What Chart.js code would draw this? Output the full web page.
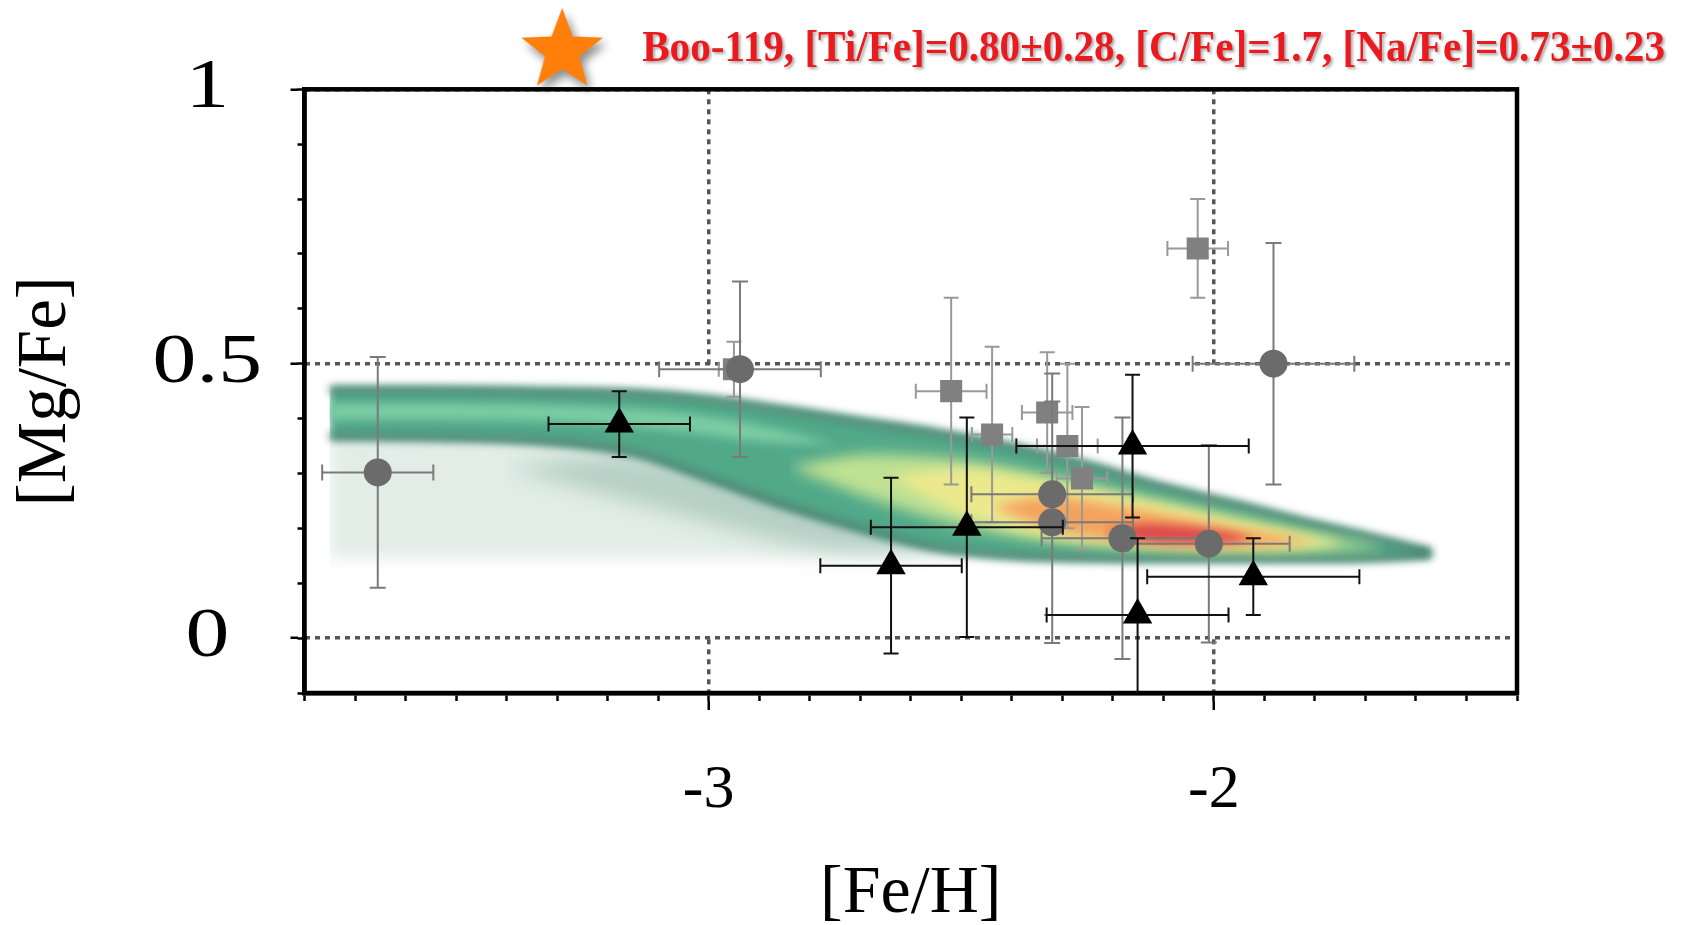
<!DOCTYPE html>
<html>
<head>
<meta charset="utf-8">
<title>[Mg/Fe] vs [Fe/H]</title>
<script src="https://cdn.jsdelivr.net/npm/chart.js@4.4.1/dist/chart.umd.min.js"></script>
<style>
  html, body { margin: 0; padding: 0; background: #fff; }
  #wrap { width: 1687px; height: 925px; position: relative; }
</style>
</head>
<body>
<div id="wrap"><canvas id="mgfe"></canvas></div>
<script>
// ---- values ----
// grey circles
const circleFeH     = [-3.655, -2.938, -2.320, -2.320, -2.181, -2.010, -1.882];
const circleMgFe    = [0.302, 0.490, 0.262, 0.211, 0.182, 0.172, 0.500];
const circleFeHErr  = [0.11, 0.16, 0.16, 0.16, 0.16, 0.16, 0.16];
const circleMgFeErr = [0.21, 0.16, 0.22, 0.22, 0.22, 0.18, 0.22];

// grey squares
const squareFeH     = [-2.950, -2.520, -2.439, -2.330, -2.290, -2.261, -2.032];
const squareMgFe    = [0.490, 0.450, 0.371, 0.411, 0.350, 0.291, 0.710];
const squareFeHErr  = [0.03, 0.07, 0.04, 0.05, 0.06, 0.05, 0.06];
const squareMgFeErr = [0.05, 0.17, 0.16, 0.11, 0.15, 0.13, 0.09];

// black triangles
const triFeH     = [-3.177, -2.639, -2.489, -2.161, -2.151, -1.922];
const triMgFe    = [0.390, 0.132, 0.202, 0.350, 0.042, 0.112];
const triFeHErr  = [0.14, 0.14, 0.19, 0.23, 0.18, 0.21];
const triMgFeErr = [0.06, 0.16, 0.20, 0.13, 0.14, 0.07];

// Boo-119 (star above the frame)
const starFeH  = [-3.29];
const starMgFe = [1.07];
const starLabel = 'Boo-119, [Ti/Fe]=0.80\u00b10.28, [C/Fe]=1.7, [Na/Fe]=0.73\u00b10.23';

// axes
const feHRange = [-3.8, -1.4];
const mgFeRange = [-0.1, 1.0];
const feHMajor = 1, feHMinor = 0.1;
const mgFeMajor = 0.5, mgFeMinor = 0.1;

// model density map: extent of the map image and its contours
const mapX      = [-3.8, -1.4];
const mapTop    = [0.496, 0.496];
const mapBottom = [0.004, 0.004];

const hazeX      = [-3.75, -3.45, -3.15, -2.90, -2.70, -2.50];
const hazeTop    = [0.370, 0.365, 0.350, 0.280, 0.220, 0.170];
const hazeBottom = [0.145, 0.145, 0.145, 0.145, 0.145, 0.147];

const haze2X      = [-3.40, -3.20, -3.00, -2.85, -2.70, -2.55];
const haze2Top    = [0.310, 0.330, 0.300, 0.255, 0.210, 0.165];
const haze2Bottom = [0.310, 0.260, 0.210, 0.175, 0.158, 0.165];

const tealX      = [-3.75, -3.55, -3.35, -3.15, -3.00, -2.85, -2.70, -2.55, -2.40, -2.25, -2.10, -1.95, -1.80, -1.70, -1.62, -1.57];
const tealTop    = [0.452, 0.452, 0.450, 0.446, 0.435, 0.416, 0.395, 0.374, 0.348, 0.315, 0.275, 0.242, 0.207, 0.186, 0.168, 0.156];
const tealBottom = [0.368, 0.366, 0.360, 0.338, 0.292, 0.242, 0.200, 0.165, 0.150, 0.146, 0.145, 0.145, 0.145, 0.146, 0.149, 0.153];

const ridgeX      = [-3.75, -3.50, -3.25, -3.05, -2.90, -2.74];
const ridgeTop    = [0.428, 0.428, 0.423, 0.410, 0.388, 0.352];
const ridgeBottom = [0.398, 0.398, 0.392, 0.375, 0.358, 0.352];

const limeX      = [-2.84, -2.68, -2.50, -2.35, -2.20, -2.05, -1.90, -1.78, -1.66];
const limeTop    = [0.312, 0.335, 0.325, 0.300, 0.270, 0.240, 0.210, 0.186, 0.166];
const limeBottom = [0.312, 0.255, 0.205, 0.180, 0.166, 0.160, 0.158, 0.160, 0.164];

const yellowX      = [-2.64, -2.50, -2.36, -2.22, -2.08, -1.95, -1.82, -1.74];
const yellowTop    = [0.295, 0.308, 0.290, 0.265, 0.238, 0.212, 0.188, 0.173];
const yellowBottom = [0.295, 0.228, 0.192, 0.175, 0.167, 0.164, 0.166, 0.173];

const orangeX      = [-2.44, -2.32, -2.20, -2.08, -1.96, -1.86, -1.80];
const orangeTop    = [0.240, 0.258, 0.243, 0.222, 0.202, 0.186, 0.177];
const orangeBottom = [0.240, 0.198, 0.178, 0.169, 0.167, 0.170, 0.177];

const redX      = [-2.22, -2.14, -2.06, -1.98, -1.92];
const redTop    = [0.192, 0.208, 0.204, 0.194, 0.181];
const redBottom = [0.192, 0.177, 0.173, 0.174, 0.181];

// ---- helpers ----
const SERIF = "'Liberation Serif', 'Times New Roman', serif";

function pairs(xs, ys) {
    return xs.map((x, i) => ({x: x, y: ys[i]}));
}

// one line dataset holding every bar; nulls split the segments
function errorBarData(xs, ys, xe, ye) {
    const pts = [];
    xs.forEach((x, i) => {
        pts.push({x: x - xe[i], y: ys[i], cap: 'v'}, {x: x + xe[i], y: ys[i], cap: 'v'}, {x: null, y: null});
        pts.push({x: x, y: ys[i] - ye[i], cap: 'h'}, {x: x, y: ys[i] + ye[i], cap: 'h'}, {x: null, y: null});
    });
    return pts;
}

function errorBars(xs, ys, xe, ye, color, capRadius, order) {
    return {
        type: 'line',
        data: errorBarData(xs, ys, xe, ye),
        borderColor: color,
        borderWidth: 2,
        spanGaps: false,
        pointStyle: 'line',
        pointRadius: capRadius,
        pointBorderColor: color,
        pointBorderWidth: 2,
        pointRotation: ctx => (ctx.raw && ctx.raw.cap === 'v') ? 90 : 0,
        fill: false,
        clip: 0,
        order: order
    };
}

// a filled contour: upper line + lower line filled up to it
function band(xs, top, bottom, fillColor, edgeColor, edgeWidth, blur, order) {
    const common = {
        type: 'line',
        borderColor: edgeColor,
        borderWidth: edgeWidth,
        pointRadius: 0,
        cubicInterpolationMode: 'monotone',
        clip: 0,
        order: order,
        blur: blur
    };
    return [
        Object.assign({}, common, {data: pairs(xs, top), fill: false}),
        Object.assign({}, common, {data: pairs(xs, bottom), fill: '-1', backgroundColor: fillColor})
    ];
}

function makeStar() {
    const c = document.createElement('canvas');
    c.width = 120;
    c.height = 120;
    const g = c.getContext('2d');
    g.shadowColor = 'rgba(0,0,0,0.45)';
    g.shadowBlur = 10;
    g.shadowOffsetX = 4;
    g.shadowOffsetY = 6;
    g.beginPath();
    for (let k = 0; k < 10; k++) {
        const r = k % 2 ? 18 : 43;
        const a = -Math.PI / 2 + k * Math.PI / 5;
        g.lineTo(60 + r * Math.cos(a), 60 + r * Math.sin(a));
    }
    g.closePath();
    g.fillStyle = '#ff7f0a';
    g.fill();
    return c;
}

// blurs the contour datasets; filler draws a fill just before its dataset,
// so the filter is switched on right after the previous dataset finishes
function setBlurFor(chart, doneMeta) {
    const metas = chart.getSortedVisibleDatasetMetas();
    const k = doneMeta ? metas.indexOf(doneMeta) - 1 : metas.length - 1;
    const next = metas[k];
    const b = next ? chart.data.datasets[next.index].blur : 0;
    chart.ctx.filter = b ? 'blur(' + b + 'px)' : 'none';
}

const softMap = {
    id: 'softMap',
    beforeDatasetsDraw(chart) { setBlurFor(chart, null); },
    afterDatasetDraw(chart, args) { setBlurFor(chart, args.meta); },
    afterDatasetsDraw(chart) {
        const ctx = chart.ctx;
        const a = chart.chartArea;
        ctx.filter = 'none';
        ctx.save();
        ctx.lineWidth = 4.5;
        ctx.strokeStyle = '#000';
        ctx.strokeRect(a.left, a.top, a.right - a.left, a.bottom - a.top);
        ctx.restore();
    }
};

// the y tick labels of the original are drawn wide; stretch them about their centre
const wideYLabels = {
    id: 'wideYLabels',
    afterLayout(chart) {
        const s = chart.scales.y;
        if (s._wide) return;
        s._wide = true;
        const drawLabels = s.drawLabels.bind(s);
        s.drawLabels = function (area) {
            const items = this.getLabelItems(area);
            const cx = items.length ? items[0].options.translation[0] : 0;
            const ctx = this.ctx;
            ctx.save();
            ctx.translate(cx, 0);
            ctx.scale(1.27, 1);
            ctx.translate(-cx, 0);
            drawLabels(area);
            ctx.restore();
        };
    }
};

const starText = {
    id: 'starText',
    afterDraw(chart) {
        const p = chart.getDatasetMeta(starIndex).data[0];
        const ctx = chart.ctx;
        const x0 = p.x + 80;
        const x1 = chart.width - 22;
        ctx.save();
        ctx.font = 'bold 44px ' + SERIF;
        const w = ctx.measureText(starLabel).width;
        ctx.translate(x0, p.y + 10);
        ctx.scale((x1 - x0) / w, 1);
        ctx.shadowColor = 'rgba(0,0,0,0.35)';
        ctx.shadowBlur = 3;
        ctx.shadowOffsetX = 2;
        ctx.shadowOffsetY = 2;
        ctx.fillStyle = '#ea1a1f';
        ctx.textBaseline = 'alphabetic';
        ctx.fillText(starLabel, 0, 0);
        ctx.restore();
    }
};

// ---- datasets ----
const datasets = [];
datasets.push({
    type: 'scatter', data: pairs(starFeH, starMgFe), pointStyle: makeStar(), pointRadius: 45,
    borderWidth: 0, clip: false, order: 0
});
const starIndex = 0;

datasets.push({type: 'scatter', data: pairs(triFeH, triMgFe), pointStyle: 'triangle', pointRadius: 17,
    backgroundColor: '#000', borderWidth: 0, order: 1});
datasets.push(errorBars(triFeH, triMgFe, triFeHErr, triMgFeErr, '#111', 7.5, 2));
datasets.push({type: 'scatter', data: pairs(circleFeH, circleMgFe), pointStyle: 'circle', pointRadius: 14,
    backgroundColor: '#6b6b6b', borderWidth: 0, order: 3});
datasets.push(errorBars(circleFeH, circleMgFe, circleFeHErr, circleMgFeErr, '#7a7a7a', 8, 4));
datasets.push({type: 'scatter', data: pairs(squareFeH, squareMgFe), pointStyle: 'rect', pointRadius: 15.6,
    backgroundColor: '#808080', borderWidth: 0, order: 5});
datasets.push(errorBars(squareFeH, squareMgFe, squareFeHErr, squareMgFeErr, '#999', 7.5, 6));

datasets.push(...band(redX, redTop, redBottom, '#dc4a4c', 'transparent', 0, 5, 22));
datasets.push(...band(orangeX, orangeTop, orangeBottom, '#f4a35e', 'transparent', 0, 6, 23));
datasets.push(...band(yellowX, yellowTop, yellowBottom, '#ece98c', 'transparent', 0, 6, 24));
datasets.push(...band(limeX, limeTop, limeBottom, '#bfe193', 'transparent', 0, 7, 25));
datasets.push(...band(ridgeX, ridgeTop, ridgeBottom, '#7acca3', 'transparent', 0, 5, 26));
datasets.push(...band(tealX, tealTop, tealBottom, '#52a98a', '#397c66', 8, 4, 27));
datasets.push(...band(haze2X, haze2Top, haze2Bottom, 'rgba(140,180,165,0.5)', 'transparent', 0, 10, 28));
datasets.push(...band(hazeX, hazeTop, hazeBottom, 'rgba(190,215,205,0.45)', 'transparent', 0, 8, 29));
datasets.push(...band(mapX, mapTop, mapBottom, '#ffffff', 'transparent', 0, 0, 30));

datasets.forEach(d => { d.xAxisID = 'x'; d.yAxisID = 'y'; });

Chart.defaults.color = '#000';

new Chart(document.getElementById('mgfe'), {
    type: 'scatter',
    data: {datasets: datasets},
    options: {
        responsive: true,
        maintainAspectRatio: false,
        animation: false,
        events: [],
        layout: {padding: {top: 89.3, right: 170, bottom: 0, left: 0}},
        plugins: {legend: {display: false}, tooltip: {enabled: false}},
        scales: {
            x: {
                type: 'linear', axis: 'x', position: 'bottom', weight: 1,
                min: feHRange[0], max: feHRange[1],
                ticks: {stepSize: feHMajor, includeBounds: false, padding: 50,
                    font: {family: SERIF, size: 62, lineHeight: 1}, color: '#000',
                    callback: v => String(v)},
                grid: {color: '#555', lineWidth: 3.5, borderDash: [5, 5], tickLength: 9,
                    tickColor: '#000', tickWidth: 2.5, tickBorderDash: []},
                border: {display: false, dash: [5, 5]},
                title: {display: true, text: '[Fe/H]', color: '#000',
                    font: {family: SERIF, size: 68, lineHeight: 0.85}, padding: {top: 0, bottom: 2}},
                afterFit(s) { s.height = 224; }
            },
            xMinor: {
                type: 'linear', axis: 'x', position: 'bottom', weight: 0,
                min: feHRange[0], max: feHRange[1],
                ticks: {stepSize: feHMinor, display: false},
                grid: {drawOnChartArea: false, tickLength: 8, tickColor: '#000', tickWidth: 2.5},
                border: {display: true, color: '#000', width: 4.5},
                afterFit(s) { s.height = 8; }
            },
            y: {
                type: 'linear', axis: 'y', position: 'left', weight: 1,
                min: mgFeRange[0], max: mgFeRange[1],
                ticks: {stepSize: mgFeMajor, includeBounds: false, padding: 40, crossAlign: 'center',
                    font: {family: SERIF, size: 69, lineHeight: 1}, color: '#000',
                    callback: v => String(v)},
                grid: {color: '#555', lineWidth: 3.5, borderDash: [5, 5], tickLength: 7,
                    tickColor: '#000', tickWidth: 2.5, tickBorderDash: []},
                border: {display: false, dash: [5, 5]},
                title: {display: true, text: '[Mg/Fe]', color: '#000',
                    font: {family: SERIF, size: 69, lineHeight: 1}, padding: {top: 12, bottom: 0}},
                afterFit(s) { s.width = 297.5; }
            },
            yMinor: {
                type: 'linear', axis: 'y', position: 'left', weight: 0,
                min: mgFeRange[0], max: mgFeRange[1],
                ticks: {stepSize: mgFeMinor, display: false},
                grid: {drawOnChartArea: false, tickLength: 7, tickColor: '#000', tickWidth: 2.5},
                border: {display: true, color: '#000', width: 4.5},
                afterFit(s) { s.width = 7; }
            }
        }
    },
    plugins: [softMap, wideYLabels, starText]
});
</script>
</body>
</html>
